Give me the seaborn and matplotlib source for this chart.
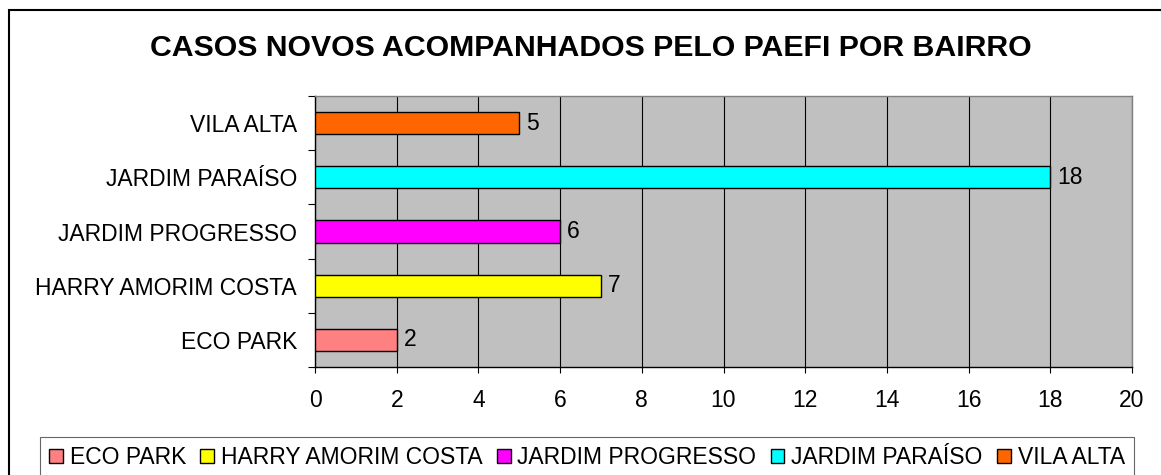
import matplotlib
matplotlib.use("Agg")
import matplotlib.pyplot as plt
import matplotlib.patches as mpatches
from matplotlib.ticker import MultipleLocator, FixedLocator
import seaborn as sns
import pandas as pd

# bairros, de cima para baixo como no grafico
bairros = ["VILA ALTA", "JARDIM PARAÍSO", "JARDIM PROGRESSO", "HARRY AMORIM COSTA", "ECO PARK"]
casos = [5, 18, 6, 7, 2]
cores = ["#FF6600", "#00FFFF", "#FF00FF", "#FFFF00", "#FF8080"]
ordem_legenda = ["ECO PARK", "HARRY AMORIM COSTA", "JARDIM PROGRESSO", "JARDIM PARAÍSO", "VILA ALTA"]
titulo = "CASOS NOVOS ACOMPANHADOS PELO PAEFI POR BAIRRO"

sns.set_style("white")
plt.rcParams["font.family"] = ["Liberation Sans", "DejaVu Sans"]
plt.rcParams["text.color"] = "black"
plt.rcParams["xtick.color"] = "black"
plt.rcParams["ytick.color"] = "black"

df = pd.DataFrame({"bairro": bairros, "casos": casos})
paleta = dict(zip(bairros, cores))

fig = plt.figure(figsize=(11.61, 4.75), dpi=100)
ax = fig.add_axes([315 / 1161, 1 - 367 / 475, (1132 - 315) / 1161, (367 - 96) / 475])
ax.set_facecolor("#C0C0C0")

sns.barplot(data=df, x="casos", y="bairro", hue="bairro", order=bairros, palette=paleta,
            orient="h", width=0.41, edgecolor="black", linewidth=1.0, legend=False,
            saturation=1, ax=ax, zorder=3)

for cont in ax.containers:
    ax.bar_label(cont, padding=5, fontsize=16.5, color="black")

ax.set_xlim(0, 20)
ax.set_ylim(4.5, -0.5)
ax.xaxis.set_major_locator(MultipleLocator(2))
ax.grid(axis="x", color="black", linewidth=0.8, zorder=0)
ax.set_axisbelow(True)
ax.set_xlabel("")
ax.set_ylabel("")

ax.yaxis.set_minor_locator(FixedLocator([-0.5, 0.5, 1.5, 2.5, 3.5, 4.5]))
ax.tick_params(axis="y", which="major", length=0, pad=13, labelsize=16.5, labelcolor="black")
ax.tick_params(axis="y", which="minor", length=5, width=0.8, color="black", left=True)
ax.tick_params(axis="x", which="major", length=4.5, width=0.8, color="black", bottom=True,
               pad=11.5, labelsize=16.5, labelcolor="black")

for s in ["left", "bottom"]:
    ax.spines[s].set_color("black")
    ax.spines[s].set_linewidth(1.0)
for s in ["top", "right"]:
    ax.spines[s].set_color("#808080")
    ax.spines[s].set_linewidth(1.0)

fig.text(0.509, 1 - 48 / 475, titulo, ha="center", va="center", fontsize=21.8,
         fontweight="bold", color="black")

# moldura externa do grafico
fig.add_artist(mpatches.Rectangle((9 / 1161, -0.05), 1.1, 1 - 10 / 475 + 0.05,
                                  transform=fig.transFigure, fill=False,
                                  edgecolor="black", linewidth=1.5))

handles = [mpatches.Patch(facecolor=paleta[b], edgecolor="black", linewidth=1.0, label=b)
           for b in ordem_legenda]
leg = fig.legend(handles=handles, loc="upper left", bbox_to_anchor=(40 / 1161, 1 - 437 / 475),
                 ncol=5, fontsize=16.5, frameon=True, fancybox=False, handlelength=0.6,
                 handleheight=0.6, handletextpad=0.3, columnspacing=0.62, borderpad=0.4,
                 borderaxespad=0)
leg.get_frame().set_edgecolor("#404040")
leg.get_frame().set_linewidth(0.8)
for t in leg.get_texts():
    t.set_color("black")

fig.savefig("out.png", dpi=100)
